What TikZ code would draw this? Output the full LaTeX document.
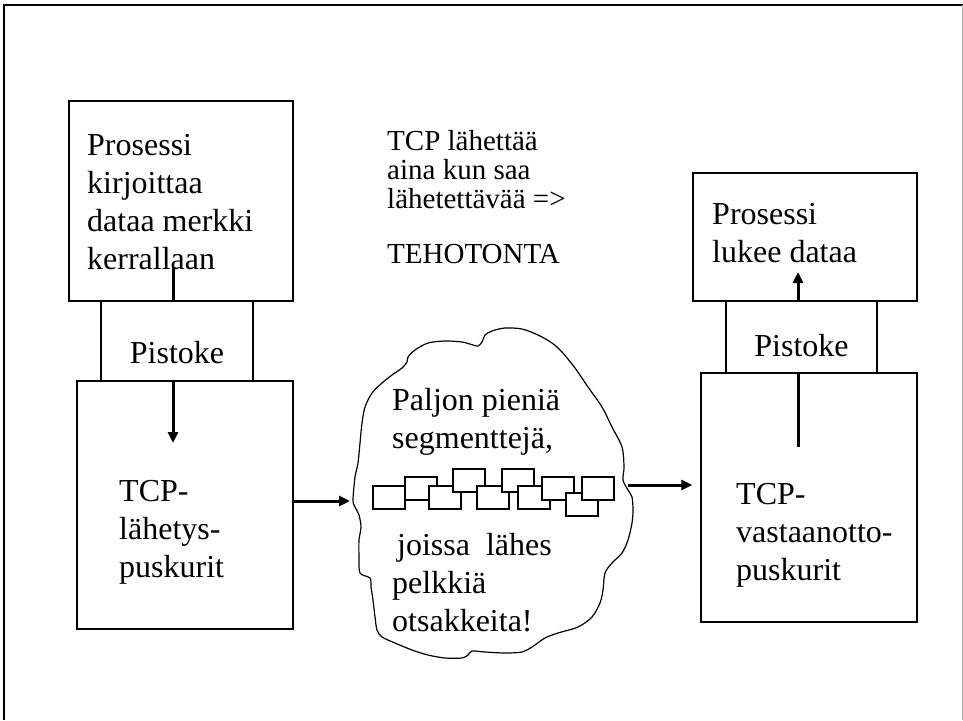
\documentclass[tikz,border=0pt]{standalone}
\usepackage{fontspec}
\setmainfont{Liberation Serif}
\usetikzlibrary{arrows.meta}

\begin{document}
\begin{tikzpicture}[x=1pt, y=-1pt, >={Triangle[length=11pt,width=10pt]},
        blk/.style 2 args={draw, line width=1.3pt, inner sep=0pt, minimum width=#1, minimum height=#2},
        txt/.style={anchor=north west, inner sep=0pt, align=left, font=\fontsize{32}{38}\selectfont},
        flow/.style={line width=3pt},
        seg/.style={draw, fill=white, line width=1.1pt}]
        \useasboundingbox (0,0) rectangle (963,720);
        % 枠
        \draw[line width=2.5pt] (4,720) -- (4,5) -- (963,5);
        \draw[gray!60, line width=0.8pt] (962,5) -- (962,720);

        % 送信側の箱
        \node[blk={224pt}{200pt}] (procL) at (181,201) {};
        \node[blk={152pt}{80pt}] (sockL) at (177,341) {};
        \node[blk={216pt}{248pt}] (bufL) at (185,505) {};
        % 受信側の箱
        \node[blk={224pt}{128pt}] (procR) at (805,237) {};
        \node[blk={151pt}{72pt}] (sockR) at (801.5,337) {};
        \node[blk={216pt}{249pt}] (bufR) at (809,497.5) {};

        % テキスト
        \node[txt] (tProcL) at (87,134) {Prosessi\\kirjoittaa\\dataa merkki\\kerrallaan};
        \node[txt, anchor=base] (tSockL) at ([yshift=-22pt]sockL.center) {Pistoke};
        \node[txt] (tBufL) at (119,480) {TCP-\\lähetys-\\puskurit};
        \node[txt] (tProcR) at (712,203) {Prosessi\\lukee dataa};
        \node[txt, anchor=base] (tSockR) at ([yshift=-19pt]sockR.center) {Pistoke};
        \node[txt] (tBufR) at (736,483) {TCP-\\vastaanotto-\\puskurit};
        \node[txt, font=\fontsize{29}{29}\selectfont] (tInfo) at (387,130) {TCP lähettää\\aina kun saa\\lähetettävää =>};
        \node[txt, font=\fontsize{29}{29}\selectfont, anchor=base west] (tTeho) at (387,263) {TEHOTONTA};

        % 雲（ネットワーク）
        \draw[line width=1.2pt] plot[smooth cycle, tension=0.5] coordinates {
            (402,368) (407,362) (408,357) (415,350) (428,343) (445,341) (462,342) (473,345)
            (478,346) (482,342) (485,335) (492,331) (505,328) (522,329) (538,335) (552,343)
            (562,352) (575,368) (588,387) (602,407) (612,427) (622,447) (624,467) (623,480)
            (628,490) (632,497) (633,510) (632,523) (628,540) (622,553) (612,563) (605,573)
            (603,590) (600,603) (592,617) (578,627) (558,633) (545,638) (532,647) (522,652)
            (505,653) (485,652) (472,651) (468,655) (462,658) (445,658) (428,655) (412,650)
            (395,643) (382,637) (377,630) (375,617) (373,600) (371,587) (370,578) (360,573)
            (359,557) (359,540) (361,527) (359,515) (355,507) (353,500) (355,477) (358,463)
            (360,443) (362,423) (365,407) (372,393) (382,383) (392,375)};
        \node[txt] (tMany) at (392,388) {Paljon pieniä\\segmenttejä,};
        \node[txt] (tHead) at (392,533) {\hspace{5pt}joissa\ \ lähes\\pelkkiä\\otsakkeita!};

        % 小さいセグメント
        \draw[seg] (373,486) rectangle ++(32,23);
        \draw[seg] (405,477) rectangle ++(32,23);
        \draw[seg] (429,486) rectangle ++(32,23);
        \draw[seg] (453,469) rectangle ++(32,23);
        \draw[seg] (477,486) rectangle ++(32,23);
        \draw[seg] (502,469) rectangle ++(32,23);
        \draw[seg] (518,486) rectangle ++(32,23);
        \draw[seg] (542,477) rectangle ++(32,23);
        \draw[seg] (566,493) rectangle ++(32,23);
        \draw[seg] (582,477) rectangle ++(32,23);

        % 矢印（データの流れ）
        \coordinate (wrStart) at (173,267);
        \coordinate (wrEnd) at (173,443);
        \draw[flow] (wrStart) -- (wrStart |- procL.south);
        \draw[flow, ->] (wrStart |- sockL.south) -- (wrEnd);

        \coordinate (rdStart) at (798,447);
        \coordinate (rdEnd) at (798,272);
        \draw[flow] (rdStart) -- (rdStart |- sockR.south);
        \draw[flow, ->] (rdStart |- sockR.north) -- (rdEnd);

        \coordinate (cloudW) at (350,501);
        \coordinate (cloudE) at (628,485);
        \coordinate (recvIn) at ([xshift=-8pt]bufR.west);
        \draw[flow, ->] (bufL.east |- cloudW) -- (cloudW);
        \draw[flow, ->] (cloudE) -- (recvIn |- cloudE);
    \end{tikzpicture}
\end{document}
